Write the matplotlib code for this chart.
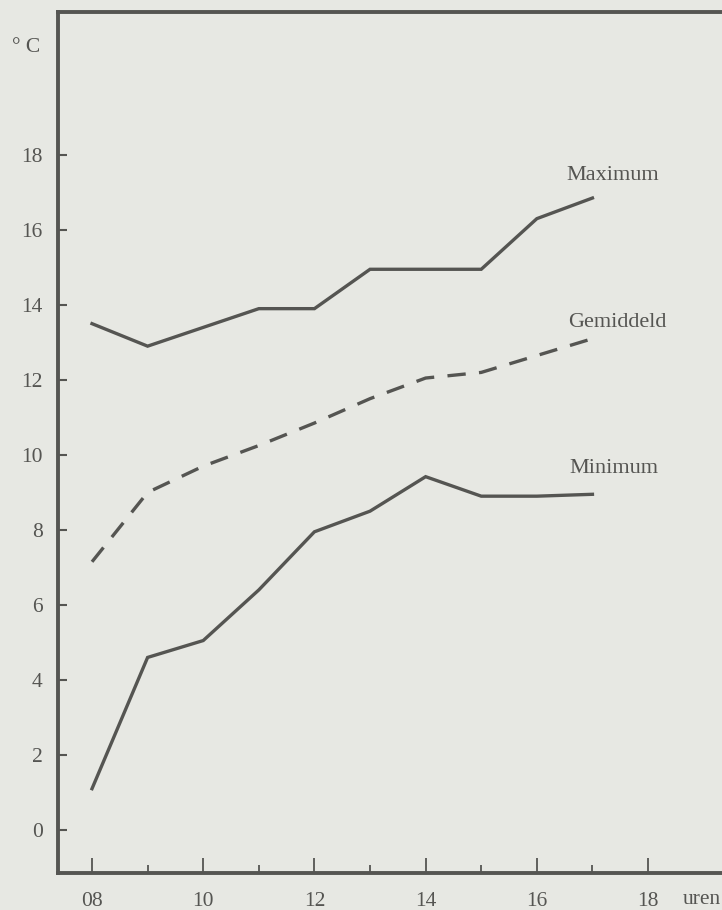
import matplotlib.pyplot as plt

# hourly temperatures (uren 08..17)
hours = [8, 9, 10, 11, 12, 13, 14, 15, 16, 17]
maximum = [13.5, 12.9, 13.4, 13.9, 13.9, 14.95, 14.95, 14.95, 16.3, 16.85]
gemiddeld = [7.15, 9.0, 9.7, 10.25, 10.85, 11.5, 12.05, 12.2, 12.65, 13.1]
minimum = [1.1, 4.6, 5.05, 6.4, 7.95, 8.5, 9.42, 8.9, 8.9, 8.95]

major_x = [8, 10, 12, 14, 16, 18]
major_x_labels = ['08', '10', '12', '14', '16', '18']
minor_x = [9, 11, 13, 15, 17]
y_ticks = [0, 2, 4, 6, 8, 10, 12, 14, 16, 18]

paper = '#e7e8e3'
ink = '#555552'
font = 'Liberation Serif'

fig = plt.figure(figsize=(7.22, 9.10), dpi=100, facecolor=paper)
ax = fig.add_axes([0.0803, 0.0407, 0.9197, 0.9461], facecolor=paper)

ax.plot(hours, maximum, color=ink, lw=2.4, solid_joinstyle='miter')
ax.plot(hours, gemiddeld, color=ink, lw=2.4, linestyle=(0, (5.5, 4)))
ax.plot(hours, minimum, color=ink, lw=2.4, solid_joinstyle='miter')

ax.set_xlim(7.388, 19.33)
ax.set_ylim(-1.147, 21.81)

ax.spines['right'].set_visible(False)
for s in ['left', 'bottom', 'top']:
    ax.spines[s].set_color(ink)
    ax.spines[s].set_linewidth(2.8)

ax.set_xticks(major_x)
ax.set_xticklabels(major_x_labels)
ax.set_xticks(minor_x, minor=True)
ax.set_yticks(y_ticks)
ax.tick_params(axis='x', which='major', direction='in', length=11, width=1.3,
               color=ink, pad=14, labelsize=15.5, labelcolor=ink)
ax.tick_params(axis='x', which='minor', direction='in', length=5.5, width=1.3,
               color=ink)
ax.tick_params(axis='y', direction='in', length=6.5, width=1.5, color=ink,
               pad=11, labelsize=15.5, labelcolor=ink)
for lab in ax.get_xticklabels() + ax.get_yticklabels():
    lab.set_family(font)

ax.text(17.37, 17.44, 'Maximum', ha='center', va='center', fontsize=16,
        family=font, color=ink)
ax.text(17.44, 13.52, 'Gemiddeld', ha='center', va='center', fontsize=16,
        family=font, color=ink)
ax.text(17.39, 9.63, 'Minimum', ha='center', va='center', fontsize=16,
        family=font, color=ink)

fig.text(26 / 722, 1 - 47 / 910, '\u00b0 C', ha='center', va='center',
         fontsize=15.5, family=font, color=ink)
fig.text(702 / 722, 1 - 899 / 910, 'uren', ha='center', va='center',
         fontsize=15.5, family=font, color=ink)

fig.savefig('out.png', dpi=100, facecolor=paper)
